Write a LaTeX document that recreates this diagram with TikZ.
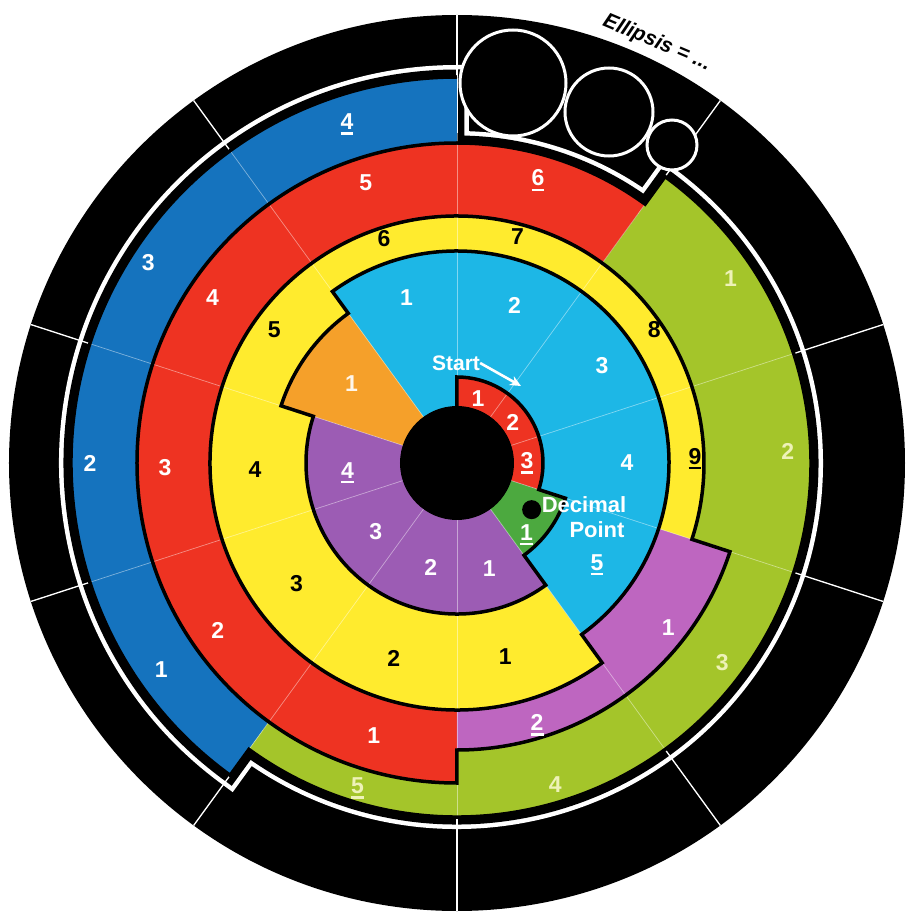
\documentclass[tikz,border=0pt]{standalone}
\usepackage{fontspec}
\setmainfont{Liberation Sans}
\usepackage{tikz}
\usetikzlibrary{arrows.meta}
\definecolor{pired}    {HTML}{EE3322}
\definecolor{pigreen}  {HTML}{4CA93F}
\definecolor{pipurple} {HTML}{9C5CB4}
\definecolor{piorange} {HTML}{F5A02A}
\definecolor{picyan}   {HTML}{1DB7E6}
\definecolor{piyellow} {HTML}{FFEB2E}
\definecolor{pimagenta}{HTML}{BE66C0}
\definecolor{pilime}   {HTML}{A4C52A}
\definecolor{piblue}   {HTML}{1573BE}
\definecolor{limetext} {HTML}{EEF2B8}
\newcommand{\dul}[1]{\setbox0=\hbox{#1}\rlap{\rule[-5pt]{\wd0}{2.4pt}}\box0}

\begin{document}
\begin{tikzpicture}[x=1pt,y=1pt,
    digit/.style={font=\fontsize{23}{26}\selectfont\bfseries,text=white,inner sep=0pt},
    wall/.style={black,line width=3.5pt,line join=miter},
    divider/.style={white,opacity=0.45,line width=0.7pt},
    tick/.style={white,line width=1.3pt},
    bubble/.style={circle,fill=black,draw=white,line width=3pt,inner sep=0pt}]
  \useasboundingbox (-457,-456) rectangle (449,463);
  \fill[white] (-457,-456) rectangle (449,463);
  \fill[black] (0,0) circle[radius=448pt];
  % rim round the spiral
  \path[save path=\rimpath] (90:386pt) -- (90:320pt)
      arc[start angle=90,end angle=54,radius=320pt] -- (54:354pt)
      arc[start angle=54,end angle=-126,radius=354pt] -- (-126:386pt)
      arc[start angle=-126,end angle=-270,radius=386pt] -- cycle;
  \draw[white,line width=24pt,line join=miter,use path=\rimpath];
  \draw[black,line width=15pt,line join=miter,use path=\rimpath];
  \foreach \a in {90,54,...,-234}
    \draw[tick] (\a:330pt) -- (\a:448pt);
  % digit blocks, outer first
  \foreach \s/\e/\R/\col in {36/40/386/piblue, 31/36/354/pilime, 25/31/320/pired,
      23/25/287/pimagenta, 14/23/247/piyellow, 9/14/212/picyan, 8/9/185/piorange,
      4/8/151/pipurple, 3/4/114/pigreen, 0/3/86/pired}
    \fill[\col] (0,0) -- ({90-36*\s}:\R pt)
      arc[start angle={90-36*\s},end angle={90-36*\e},radius=\R pt] -- cycle;
  \foreach \a in {90,54,...,-234}
    \draw[divider] (\a:57pt) -- (\a:448pt);
  \draw[wall] (90:57pt) foreach \s/\e/\R in {0/3/86, 3/4/114, 4/8/151, 8/9/185,
      9/14/212, 14/23/247, 23/25/287, 25/31/320, 31/36/354, 36/40/386}
    { -- ({90-36*\s}:\R pt) arc[start angle={90-36*\s},end angle={90-36*\e},radius=\R pt] };
  \node[circle,fill=black,minimum size=114pt,inner sep=0pt] (hub) at (0,0) {};
  % ellipsis
  \node[bubble,minimum size=106pt] (bigdot) at (56,380) {};
  \node[bubble,minimum size=88pt] (middot) at (152,351) {};
  \node[bubble,minimum size=50pt] (smalldot) at (215,318) {};
  \node[font=\fontsize{21}{24}\selectfont\bfseries\itshape,rotate=-23] (ellipsis) at (200,420) {Ellipsis = ...};
  % labels
  \foreach \a/\r/\t [count=\i] in {72/68/1, 36/69/2, 0/70/\dul{3}}
    \node[digit] (three-\i) at (\a:\r pt) {\t};
  \node[digit] (one-1) at (-46:100pt) {\dul{1}};
  \node[circle,fill=black,minimum size=19pt,inner sep=0pt] (decdot) at (-32:88pt) {};
  \node[digit,font=\fontsize{22}{24}\selectfont\bfseries] (decimal) at (127,-42) {Decimal};
  \node[digit,font=\fontsize{22}{24}\selectfont\bfseries] (point) at (140,-67) {Point};
  \foreach \a/\r/\t [count=\i] in {-73/110/1, -104/108/2, -140/106/3, -175/110/\dul{4}}
    \node[digit] (four-\i) at (\a:\r pt) {\t};
  \node[digit,text=white!90!piorange] (onebis-1) at (143:132pt) {1};
  \foreach \a/\r/\t [count=\i] in {107/173/1, 70/168/2, 34/175/3, 0/170/4, -36/173/\dul{5}}
    \node[digit] (five-\i) at (\a:\r pt) {\t};
  \node[font=\fontsize{21}{24}\selectfont\bfseries,text=white,inner sep=0pt] (start) at (-1,100) {Start};
  \coordinate (starttip) at (64,77);
  \draw[white,line width=2.6pt,-{Stealth[length=11pt,width=10pt]}] (start.east) -- (starttip);
  \foreach \a/\r/\t [count=\i] in {-76/200/1, -108/205/2, -143/201/3, -178/202/4,
      144/226/5, 108/236/6, 75/234/7, 34/238/8, 1/238/\dul{9}}
    \node[digit,text=black] (nine-\i) at (\a:\r pt) {\t};
  \foreach \a/\r/\t [count=\i] in {-38/268/1, -73/274/\dul{2}}
    \node[digit] (two-\i) at (\a:\r pt) {\t};
  \foreach \a/\r/\t [count=\i] in {-107/285/1, -145/292/2, -179/292/3, 146/295/4,
      108/295/5, 74/294/\dul{6}}
    \node[digit] (six-\i) at (\a:\r pt) {\t};
  \foreach \a/\r/\t [count=\i] in {34/330/1, 2/331/2, -37/332/3, -73/336/4, -107/340/\dul{5}}
    \node[digit,text=limetext] (fivebis-\i) at (\a:\r pt) {\t};
  \foreach \a/\r/\t [count=\i] in {-145/361/1, 180/367/2, 147/368/3, 108/356/\dul{4}}
    \node[digit] (fourbis-\i) at (\a:\r pt) {\t};
\end{tikzpicture}
\end{document}
